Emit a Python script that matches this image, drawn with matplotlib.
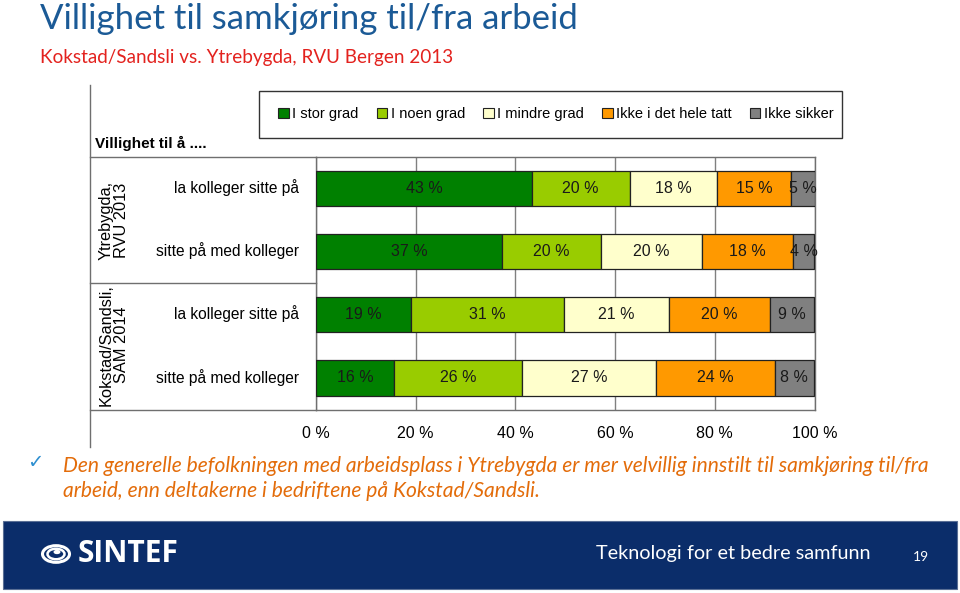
import matplotlib.pyplot as plt
from matplotlib.patches import Rectangle, Circle
from matplotlib.lines import Line2D

# data (share of answers in %)
rows = ["la kolleger sitte på", "sitte på med kolleger",
        "la kolleger sitte på", "sitte på med kolleger"]
groups = ["Ytrebygda,\nRVU 2013", "Kokstad/Sandsli,\nSAM 2014"]
answers = ["I stor grad", "I noen grad", "I mindre grad",
           "Ikke i det hele tatt", "Ikke sikker"]
stor_grad = [43.3, 37.4, 19.0, 15.7]
noen_grad = [19.6, 19.7, 30.7, 25.7]
mindre_grad = [17.5, 20.4, 21.1, 26.9]
ikke_hele = [14.9, 18.2, 20.2, 23.8]
ikke_sikker = [4.7, 4.2, 8.9, 7.7]
xticks = [0, 20, 40, 60, 80, 100]

series = [stor_grad, noen_grad, mindre_grad, ikke_hele, ikke_sikker]
colors = ["#008000", "#99CC00", "#FFFFCC", "#FF9900", "#808080"]

narrow = ["Liberation Sans", "DejaVu Sans"]
slide = ["Lato", "DejaVu Sans"]

W, H = 960, 593
def fx(x):
    return x / W
def fy(y):
    return 1 - y / H

fig = plt.figure(figsize=(9.6, 5.93), dpi=100)

# slide title
fig.text(fx(40), fy(19), "Villighet til samkjøring til/fra arbeid", fontsize=25,
         color="#1B5A96", family=slide, va="center", ha="left")
fig.text(fx(40), fy(58), "Kokstad/Sandsli vs. Ytrebygda, RVU Bergen 2013", fontsize=13.6,
         color="#E3221E", family=slide, va="center", ha="left")

# bar chart
ax = fig.add_axes([fx(316), fy(409.5), (814.5 - 316) / W, (409.5 - 157) / H])
y = list(range(len(rows)))
left = [0] * len(rows)
for vals, col in zip(series, colors):
    ax.barh(y, vals, left=left, height=0.56, color=col, edgecolor="#222222",
            linewidth=0.9, zorder=3)
    for i, v in enumerate(vals):
        ax.text(left[i] + v / 2, i, f"{round(v)} %", ha="center", va="center",
                fontsize=11.5, family=narrow, color="#1a1a1a", zorder=4)
    left = [a + b for a, b in zip(left, vals)]

ax.set_xlim(0, 100)
ax.set_ylim(3.5, -0.5)
ax.set_yticks([])
ax.set_xticks(xticks)
ax.set_xticklabels([f"{t} %" for t in xticks], family=narrow, fontsize=11.5)
ax.tick_params(axis="x", length=0, pad=12)
ax.grid(axis="x", color="#808080", linewidth=1, zorder=0)
for s in ax.spines.values():
    s.set_color("#6f6f6f")
    s.set_linewidth(1)

# table part on the left
lc = "#6f6f6f"
for xs, ys in [([90, 90], [85, 447]), ([90, 316], [157, 157]),
               ([90, 316], [283, 283]), ([90, 316], [409.5, 409.5])]:
    fig.add_artist(Line2D([fx(v) for v in xs], [fy(v) for v in ys],
                          color=lc, linewidth=1))

fig.text(fx(95), fy(143), "Villighet til å ....", fontsize=11, fontweight="bold",
         family=narrow, ha="left", va="center")
row_y = [188, 251, 314, 378]
for lab, ry in zip(rows, row_y):
    fig.text(fx(299), fy(ry), lab, fontsize=11.2, family=narrow,
             ha="right", va="center")
for lab, gy in zip(groups, [220, 345]):
    fig.text(fx(114), fy(gy), lab, fontsize=11.8, family=narrow, rotation=90,
             ha="center", va="center", multialignment="center", linespacing=1.0)

# legend in a box
fig.add_artist(Rectangle((fx(259), fy(138)), (842 - 259) / W, (138 - 91) / H,
                         facecolor="white", edgecolor="#333333", linewidth=1))
handles = [Rectangle((0, 0), 1, 1, facecolor=c, edgecolor="#222222", linewidth=0.8)
           for c in colors]
fig.legend(handles, answers, loc="center", bbox_to_anchor=(fx(556), fy(114)),
           ncol=5, frameon=False, handlelength=0.7, handleheight=0.7,
           handletextpad=0.25, columnspacing=1.25,
           prop={"family": narrow, "size": 10.5})

# comment under the chart
fig.text(fx(27), fy(462), "\u2713", fontsize=14, color="#2E8FD0",
         family=["DejaVu Sans"], ha="left", va="center")
fig.text(fx(63), fy(466),
         "Den generelle befolkningen med arbeidsplass i Ytrebygda er mer velvillig innstilt til samkjøring til/fra",
         fontsize=15.1, style="italic", color="#E36C0A", family=slide, ha="left", va="center")
fig.text(fx(63), fy(491), "arbeid, enn deltakerne i bedriftene på Kokstad/Sandsli.",
         fontsize=15.1, style="italic", color="#E36C0A", family=slide, ha="left", va="center")

# footer band
fig.add_artist(Rectangle((fx(3), fy(589)), (957 - 3) / W, (589 - 521) / H,
                         facecolor="#0B2D6A", edgecolor="#5a6f95", linewidth=0.8))
fig.add_artist(Circle((fx(56), fy(554)), 13.5 / W, transform=fig.transFigure,
                      facecolor="none", edgecolor="white", linewidth=2.2))
fig.add_artist(Circle((fx(56), fy(554)), 8.5 / W, transform=fig.transFigure,
                      facecolor="none", edgecolor="white", linewidth=1.8))
fig.add_artist(Circle((fx(57), fy(552)), 3.5 / W, transform=fig.transFigure,
                      facecolor="white", edgecolor="none"))
fig.text(fx(78), fy(554), "SINTEF", fontsize=21.5, fontweight="bold", color="white",
         family=["Open Sans", "DejaVu Sans"], ha="left", va="center")
fig.text(fx(596), fy(553), "Teknologi for et bedre samfunn", fontsize=14.3, color="white",
         family=slide, ha="left", va="center")
fig.text(fx(913), fy(557), "19", fontsize=10, color="white", family=slide,
         ha="left", va="center")

fig.savefig("out.png", dpi=100)
